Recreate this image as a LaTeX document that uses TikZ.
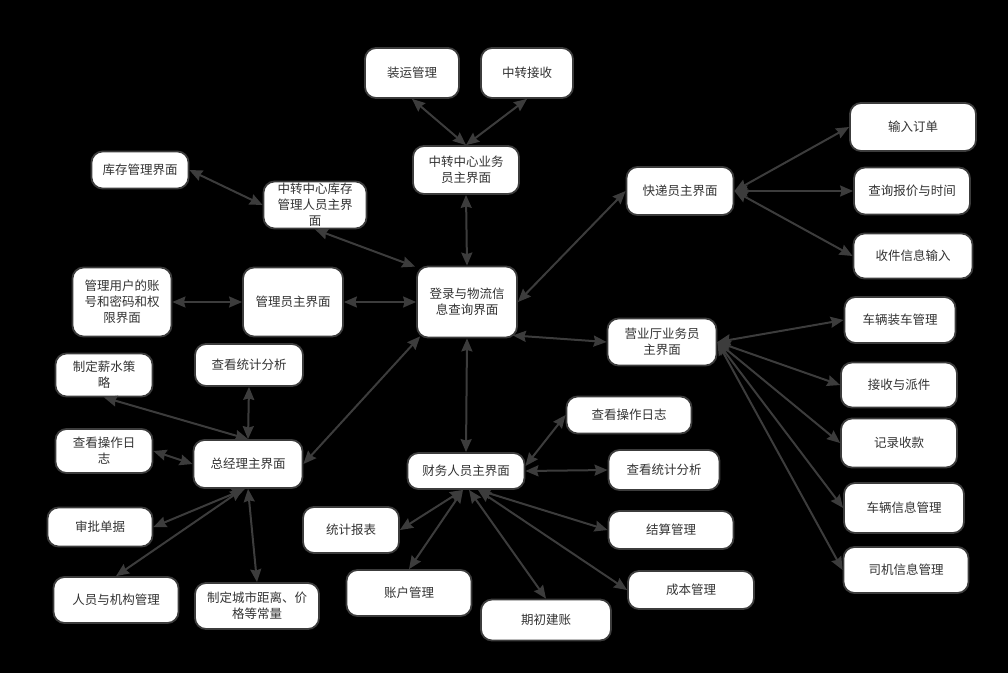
\documentclass[tikz,border=0pt]{standalone}
\usepackage{fontspec}
\newfontfamily\cjk{Noto Sans CJK SC}
\usetikzlibrary{arrows.meta}
\definecolor{ink}{HTML}{333333}
\definecolor{wire}{HTML}{3C3C3C}
\tikzset{
  box/.style={draw=wire, line width=1.8pt, fill=white, rounded corners=11pt,
    inner sep=0pt, align=center, text=ink,
    font=\cjk\fontsize{12.5}{16}\selectfont},
  bx/.style n args={2}{box, minimum width=#1, minimum height=#2},
  link/.style={draw=wire, line width=2pt,
    {Stealth[length=13pt,width=11pt,inset=1.5pt]}-{Stealth[length=13pt,width=11pt,inset=1.5pt]}}
}
\begin{document}
\begin{tikzpicture}[x=1pt,y=-1pt]
\fill[black] (0,0) rectangle (1008,673);
\useasboundingbox (0,0) rectangle (1008,673);

% transfer centre
\node[bx={94}{50}] (zy) at (412,73) {装运管理};
\node[bx={92}{50}] (zj) at (527,73) {中转接收};
\node[bx={106}{48}] (zzyw) at (466,170) {中转中心业务\\员主界面};
\node[bx={97}{37}] (kc) at (140,170) {库存管理界面};
\node[bx={103}{47}] (zzkc) at (315,205) {中转中心库存\\管理人员主界\\面};

% administrator
\node[bx={99}{69}] (yh) at (122,302) {管理用户的账\\号和密码和权\\限界面};
\node[bx={100}{69}] (gly) at (293,302) {管理员主界面};
\node[bx={100}{71}] (login) at (467,302) {登录与物流信\\息查询界面};

% courier
\node[bx={107}{48}] (kd) at (680,191) {快递员主界面};
\node[bx={126}{48}] (dd) at (913,127) {输入订单};
\node[bx={116}{47}] (bj) at (912,191) {查询报价与时间};
\node[bx={119}{45}] (sj) at (913,256) {收件信息输入};

% business hall
\node[bx={109}{47}] (yyt) at (662,342) {营业厅业务员\\主界面};
\node[bx={111}{46}] (zc) at (900,320) {车辆装车管理};
\node[bx={116}{45}] (pj) at (899,385) {接收与派件};
\node[bx={116}{49}] (sk) at (899,443) {记录收款};
\node[bx={120}{50}] (cl) at (904,508) {车辆信息管理};
\node[bx={125}{46}] (sjxx) at (906,570) {司机信息管理};

% finance
\node[bx={117}{36}] (cw) at (466,471) {财务人员主界面};
\node[bx={125}{37}] (cwrz) at (629,415) {查看操作日志};
\node[bx={111}{40}] (cwtj) at (664,470) {查看统计分析};
\node[bx={96}{46}] (bb) at (351,530) {统计报表};
\node[bx={125}{38}] (js) at (671,530) {结算管理};
\node[bx={125}{46}] (zh) at (409,593) {账户管理};
\node[bx={130}{41}] (qc) at (546,620) {期初建账};
\node[bx={126}{38}] (cb) at (691,590) {成本管理};

% general manager
\node[bx={109}{48}] (gm) at (248,464) {总经理主界面};
\node[bx={97}{43}] (xs) at (104,375) {制定薪水策\\略};
\node[bx={108}{42}] (gmtj) at (249,365) {查看统计分析};
\node[bx={97}{44}] (gmrz) at (104,451) {查看操作日\\志};
\node[bx={105}{39}] (sp) at (100,527) {审批单据};
\node[bx={125}{46}] (ry) at (116,600) {人员与机构管理};
\node[bx={124}{46}] (cs) at (257,606) {制定城市距离、价\\格等常量};

% connectors
\draw[link] (zy.south) -- (zzyw.north);
\draw[link] (zj.south) -- (zzyw.north);
\draw[link] (zzyw.south) -- (login.north);
\draw[link] (kc.east) -- (zzkc.west);
\draw[link] (zzkc.south) -- ([xshift=-1pt,yshift=-1pt]login.north west);
\draw[link] (yh.east) -- (gly.west);
\draw[link] (gly.east) -- (login.west);
\draw[link] (login.east) -- (kd.west);
\draw[link] ([xshift=-5pt,yshift=3pt]login.south east) -- (yyt.west);
\draw[link] ([xshift=4pt,yshift=2pt]login.south west) -- (gm.east);
\draw[link] (login.south) -- (cw.north);

\draw[link] (kd.east) -- (dd.west);
\draw[link] (kd.east) -- (bj.west);
\draw[link] (kd.east) -- (sj.west);

\draw[link] (yyt.east) -- (zc.west);
\draw[link] (yyt.east) -- (pj.west);
\draw[link] (yyt.east) -- (sk.west);
\draw[link] (yyt.east) -- (cl.west);
\draw[link] (yyt.east) -- (sjxx.west);

\draw[link] ([yshift=5pt]cw.east) -- (cwrz.west);
\draw[link] (cw.east) -- (cwtj.west);
\draw[link] ([xshift=-3pt]cw.south) -- (bb.east);
\draw[link] ([xshift=-3pt]cw.south) -- (zh.north);
\draw[link] ([xshift=3pt]cw.south) -- (qc.north);
\draw[link] ([xshift=12pt]cw.south) -- (js.west);
\draw[link] ([xshift=12pt]cw.south) -- (cb.west);

\draw[link] (gm.north) -- (xs.south);
\draw[link] (gm.north) -- (gmtj.south);
\draw[link] (gmrz.east) -- (gm.west);
\draw[link] ([xshift=-3pt]gm.south) -- (sp.east);
\draw[link] ([xshift=-5pt]gm.south) -- (ry.north);
\draw[link] (gm.south) -- (cs.north);
\end{tikzpicture}
\end{document}
